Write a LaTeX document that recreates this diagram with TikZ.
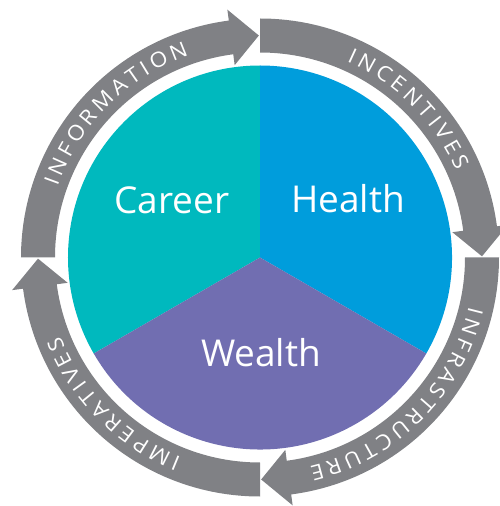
\documentclass[tikz,border=0pt]{standalone}
\usepackage{fontspec}
\setmainfont{Open Sans}

\definecolor{careerteal}{RGB}{0,185,190}
\definecolor{healthblue}{RGB}{0,157,220}
\definecolor{wealthpurple}{RGB}{113,110,177}
\definecolor{ringgray}{RGB}{128,129,133}

\newcommand\ringfont{\fontsize{21}{21}\selectfont}

% letters of a ring word, centred on angle #2, read clockwise,
% proportionally spaced with #3 pt of tracking between letters
\newcommand\ringword[4]{%
  \begingroup\ringfont
  \gdef\ringtotal{0}%
  \foreach \ch in {#4}{%
    \pgfmathwidth{"\ch"}%
    \pgfmathparse{\ringtotal+1.08*\pgfmathresult+#3}%
    \xdef\ringtotal{\pgfmathresult}%
  }%
  \pgfmathparse{-(\ringtotal-#3)/2}\xdef\ringpos{\pgfmathresult}%
  \endgroup
  \foreach \ch [count=\i] in {#4}{%
    {\ringfont\pgfmathwidth{"\ch"}\xdef\ringw{\pgfmathresult}}%
    \pgfmathsetmacro\ang{#2-deg((\ringpos+0.54*\ringw)/218)}
    \node[ringletter, rotate=\ang-90, xscale=1.08] (#1\i) at (\ang:214.5) {\ch};
    \pgfmathparse{\ringpos+1.08*\ringw+#3}\xdef\ringpos{\pgfmathresult}%
  }%
}

\begin{document}
\begin{tikzpicture}[x=1pt,y=1pt,
  sectorlabel/.style={text=white, inner sep=0pt, font=\fontsize{37}{37}\selectfont},
  ringarrow/.style={fill=ringgray, draw=none},
  ringletter/.style={text=white, inner sep=0pt, anchor=base, font=\ringfont}
]
\useasboundingbox (-260,-248.5) rectangle (240,257.5);
\clip (-260,-248.5) rectangle (240,257.5);

% three sectors of the central disk
\fill[careerteal]   (0,0) -- (90:192) arc[start angle=90, end angle=210, radius=192] -- cycle;
\fill[healthblue]   (0,0) -- (-30:192) arc[start angle=-30, end angle=90, radius=192] -- cycle;
\fill[wealthpurple] (0,0) -- (210:192) arc[start angle=210, end angle=330, radius=192] -- cycle;

\node[sectorlabel] (career) at (-88,57.5) {Career};
\node[sectorlabel] (health) at (88,58.5) {Health};
\node[sectorlabel] (wealth) at (1,-95.5) {Wealth};

% four clockwise arrows forming the outer ring
\foreach \a in {180,90,0,-90}{
  \pgfmathsetmacro\tip{\a-89.7}
  \pgfmathsetmacro\hb{\a-82.5}
  \fill[ringarrow] (\a:239) arc[start angle=\a, end angle=\hb, radius=239]
    -- (\hb:250) -- (\tip:222) -- (\hb:194) -- (\hb:205)
    arc[start angle=\hb, end angle=\a, radius=205] -- cycle;
}

% ring labels, read clockwise with tops outward
\ringword{info}{135}{4}{I,N,F,O,R,M,A,T,I,O,N}
\ringword{inc}{45}{4}{I,N,C,E,N,T,I,V,E,S}
\ringword{infra}{-45}{4}{I,N,F,R,A,S,T,R,U,C,T,U,R,E}
\ringword{imp}{225}{4}{I,M,P,E,R,A,T,I,V,E,S}
\end{tikzpicture}
\end{document}
